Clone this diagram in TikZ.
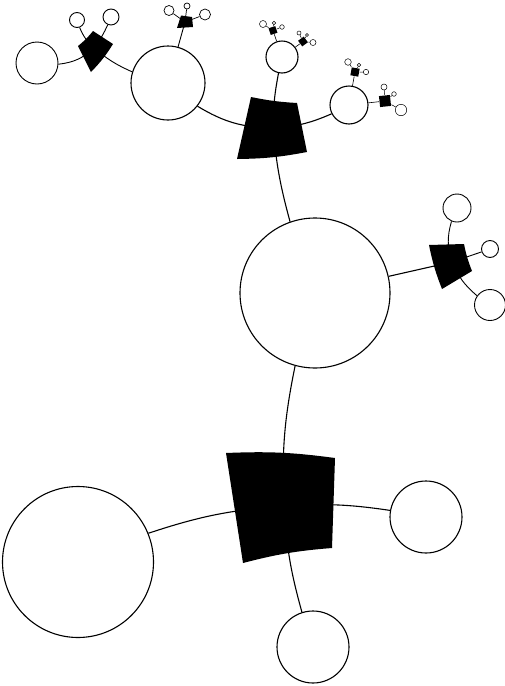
\documentclass[tikz,border=0pt]{standalone}
\usepackage{tikz}
\pgfdeclarelayer{background}
\pgfsetlayers{background,main}
\tikzset{
  disc/.style={circle, draw, fill=white, inner sep=0pt, minimum size=#1},
  chip/.style={rectangle, fill=black, inner sep=0pt, minimum size=#1},
  sector/.style={fill=black},
  link/.style={line width=#1},
  link/.default=1.1pt,
}

\begin{document}
\begin{tikzpicture}[x=1pt, y=-1pt, line width=1.1pt]
  \useasboundingbox (0,0) rectangle (504,686);
  % ================= level 0: root sector and its discs =================
  \fill[sector] (226,453) to[bend left=5] (335,458) -- (332,548)
    to[bend right=5] (243,563) -- cycle;
  \coordinate (s0) at (284,506);
  \node[disc=150] (c1) at (315,293) {};
  \node[disc=151] (c2) at (78,562) {};
  \node[disc=72]  (c3) at (426,517) {};
  \node[disc=72]  (c4) at (313,647) {};
  % ================= level 1 =================
  \fill[sector] (251,97) to[bend right=4] (297,103) -- (307,152)
    to[bend left=5] (237,159) -- cycle;
  \coordinate (st) at (273,128);
  \fill[sector] (464,244) to[bend right=5] (472,271) -- (442,289)
    to[bend left=5] (429,245) -- cycle;
  \coordinate (s1) at (452,262);
  \node[disc=74] (c5) at (168,83) {};
  \node[disc=32] (c6) at (282,57) {};
  \node[disc=38] (c7) at (349,105) {};
  \begin{scope}[line width=0.9pt]
    \node[disc=28] (c11) at (457,208) {};
    \node[disc=17] (c12) at (490,249) {};
    \node[disc=31] (c13) at (490,305) {};
  \end{scope}
  % ================= level 2 =================
  \fill[sector] (113,44) to[bend left=6] (91,72) -- (78,46)
    to[bend right=6] (93,31) -- cycle;
  \coordinate (s3) at (94,48);
  \fill[sector] (181,15.5) -- (192,17) -- (193,27) -- (177,28) -- cycle;
  \coordinate (s2) at (185,22);
  \node[chip=7, rotate=18]  (t1) at (273,30.5) {};
  \node[chip=7, rotate=36]  (t2) at (303,41.5) {};
  \node[chip=8, rotate=-10] (t3) at (355,72) {};
  \node[chip=11, rotate=6]  (t4) at (385,101) {};
  \begin{scope}[line width=0.9pt]
    \node[disc=42] (c8) at (37,63) {};
    \node[disc=15] (c9) at (77,20) {};
    \node[disc=16] (c10) at (111,17) {};
  \end{scope}
  \begin{scope}[line width=0.7pt]
    \node[disc=10] (s2a) at (169,10.5) {};
    \node[disc=6]  (s2b) at (187,6) {};
    \node[disc=11] (s2c) at (205,14.5) {};
  \end{scope}
  % ================= level 3: the tiny ones =================
  \begin{scope}[line width=0.5pt]
    \node[disc=7]    (t1a) at (263,24) {};
    \node[disc=3.4]  (t1b) at (274,23) {};
    \node[disc=4.6]  (t1c) at (282,27) {};
    \node[disc=4]    (t2a) at (299,33) {};
    \node[disc=3]    (t2b) at (307,35) {};
    \node[disc=6]    (t2c) at (313,42.5) {};
    \node[disc=6.6]  (t3a) at (348,62) {};
    \node[disc=3.4]  (t3b) at (359,65) {};
    \node[disc=5.4]  (t3c) at (366,72) {};
    \node[disc=6]    (t4a) at (384,87) {};
    \node[disc=4.6]  (t4b) at (394,94) {};
    \node[disc=11.4] (t4c) at (401,110) {};
  \end{scope}
  % ================= links, behind everything =================
  \begin{pgfonlayer}{background}
    \begin{scope}[link]
      \draw (s0) to[bend left=7] (c1);
      \draw (s0) to[bend right=7] (c2);
      \draw (s0) to[bend left=6] (c3);
      \draw (s0) to[bend right=6] (c4);
      \draw (c1) to[bend left=5] (st);
      \draw (c1) -- (s1);
      \draw (st) to[bend left=15] (c5);
      \draw (st) to[bend left=5] (c6);
      \draw (st) to[bend right=10] (c7);
    \end{scope}
    \begin{scope}[link=0.9pt]
      \draw (s1) to[bend left=17] (c11);
      \draw (s1) -- (c12);
      \draw (s1) to[bend right=13] (c13);
      \draw (c5) to[bend left=8] (s3);
      \draw (c5) -- (s2);
      \draw (s3) to[bend left=18] (c8);
      \draw (s3) to[bend left=12] (c9);
      \draw (s3) to[bend right=6] (c10);
    \end{scope}
    \foreach \k in {a,b,c}
      \draw[link=0.7pt] (s2) -- (s2\k);
    \draw[link=0.6pt] (c6) -- (t1);
    \draw[link=0.6pt] (c6) -- (t2);
    \draw[link=0.6pt] (c7) -- (t3);
    \draw[link=0.6pt] (c7) -- (t4);
    \foreach \t in {t1,t2,t3,t4}
      \foreach \k in {a,b,c}
        \draw[link=0.5pt] (\t) -- (\t\k);
  \end{pgfonlayer}
\end{tikzpicture}
\end{document}
